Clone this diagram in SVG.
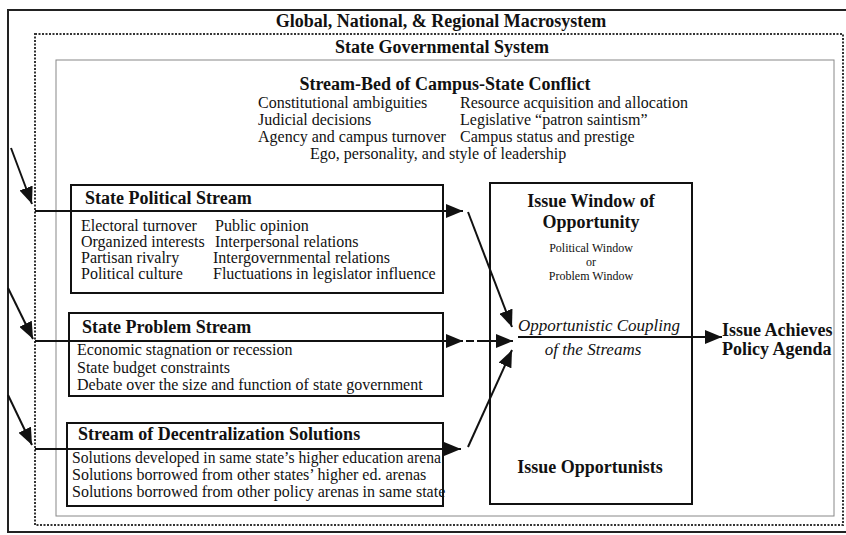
<svg xmlns="http://www.w3.org/2000/svg" width="846" height="535" viewBox="0 0 846 535">
<style>
text{font-family:"Liberation Serif","Times New Roman",serif;fill:#111}
.t{font-weight:bold;font-size:18px}
.r{font-size:16px}
.s{font-size:12px}
.i{font-style:italic;font-size:17px}
.box{fill:none;stroke:#111;stroke-width:2}
.c{fill:none;stroke:#111;stroke-width:2}
</style>
<defs>
<marker id="ah" markerUnits="userSpaceOnUse" markerWidth="18" markerHeight="14" refX="17" refY="7" orient="auto">
<path d="M0,0 L17,7 L0,14 Z" fill="#111"/>
</marker>
</defs>
<rect width="846" height="535" fill="#fff"/>
<g id="macrosystem">
<rect x="8" y="10" width="850" height="522" fill="none" stroke="#222" stroke-width="2"/>
<text class="t" x="441" y="27" text-anchor="middle">Global, National, &amp; Regional Macrosystem</text>
</g>
<g id="state-system">
<rect x="35" y="34" width="808" height="491" fill="none" stroke="#333" stroke-width="2" stroke-dasharray="2 1.5"/>
<text class="t" x="442" y="53" text-anchor="middle">State Governmental System</text>
</g>
<g id="stream-bed">
<rect x="56" y="60" width="778" height="456" fill="none" stroke="#888" stroke-width="1"/>
<text class="t" x="445" y="90" text-anchor="middle">Stream-Bed of Campus-State Conflict</text>
<text class="r" x="258" y="108">Constitutional ambiguities</text>
<text class="r" x="258" y="125">Judicial decisions</text>
<text class="r" x="258" y="142">Agency and campus turnover</text>
<text class="r" x="460" y="108">Resource acquisition and allocation</text>
<text class="r" x="460" y="125">Legislative “patron saintism”</text>
<text class="r" x="460" y="142">Campus status and prestige</text>
<text class="r" x="310" y="159">Ego, personality, and style of leadership</text>
</g>
<g id="political-stream">
<rect class="box" x="71" y="185" width="372" height="108"/>
<text class="t" x="85" y="204">State Political Stream</text>
<text class="r" x="81" y="231">Electoral turnover</text>
<text class="r" x="81" y="247">Organized interests</text>
<text class="r" x="81" y="263">Partisan rivalry</text>
<text class="r" x="81" y="279">Political culture</text>
<text class="r" x="215" y="231">Public opinion</text>
<text class="r" x="215" y="247">Interpersonal relations</text>
<text class="r" x="213" y="263">Intergovernmental relations</text>
<text class="r" x="213" y="279">Fluctuations in legislator influence</text>
</g>
<g id="problem-stream">
<rect class="box" x="69" y="313" width="374" height="83"/>
<text class="t" x="82" y="333">State Problem Stream</text>
<text class="r" x="77" y="355">Economic stagnation or recession</text>
<text class="r" x="77" y="373">State budget constraints</text>
<text class="r" x="77" y="390">Debate over the size and function of state government</text>
</g>
<g id="solutions-stream">
<rect class="box" x="67" y="423" width="376" height="83"/>
<text class="t" x="78" y="440">Stream of Decentralization Solutions</text>
<text class="r" x="72" y="463" textLength="369" lengthAdjust="spacingAndGlyphs">Solutions developed in same state’s higher education arena</text>
<text class="r" x="72" y="480">Solutions borrowed from other states’ higher ed. arenas</text>
<text class="r" x="72" y="497">Solutions borrowed from other policy arenas in same state</text>
</g>
<g id="issue-window">
<rect class="box" x="490" y="183" width="202" height="321"/>
<text class="t" x="591" y="207" text-anchor="middle">Issue Window of</text>
<text class="t" x="591" y="228" text-anchor="middle">Opportunity</text>
<text class="s" x="591" y="252" text-anchor="middle">Political Window</text>
<text class="s" x="591" y="266" text-anchor="middle">or</text>
<text class="s" x="591" y="280" text-anchor="middle">Problem Window</text>
<text class="i" x="518" y="331">Opportunistic Coupling</text>
<text class="i" x="593" y="355" text-anchor="middle">of the Streams</text>
<text class="t" x="590" y="473" text-anchor="middle">Issue Opportunists</text>
</g>
<g id="policy-agenda">
<text class="t" x="722" y="336">Issue Achieves</text>
<text class="t" x="722" y="355">Policy Agenda</text>
</g>
<g id="connectors">
<line class="c" x1="11" y1="148" x2="32" y2="204" marker-end="url(#ah)"/>
<line class="c" x1="8" y1="288" x2="33" y2="339" marker-end="url(#ah)"/>
<line class="c" x1="8" y1="395" x2="32" y2="445" marker-end="url(#ah)"/>
<line class="c" x1="35" y1="211" x2="463" y2="211" marker-end="url(#ah)"/>
<line class="c" x1="35" y1="341" x2="463" y2="341" marker-end="url(#ah)"/>
<line class="c" x1="35" y1="449" x2="461" y2="449" marker-end="url(#ah)"/>
<line class="c" x1="468" y1="212" x2="512" y2="327" marker-end="url(#ah)"/>
<line class="c" x1="466" y1="341" x2="474" y2="341"/>
<line class="c" x1="477" y1="341" x2="513" y2="341" marker-end="url(#ah)"/>
<line class="c" x1="468" y1="447" x2="512" y2="350" marker-end="url(#ah)"/>
<line class="c" x1="518" y1="337" x2="722" y2="337" marker-end="url(#ah)"/>
</g>
</svg>
